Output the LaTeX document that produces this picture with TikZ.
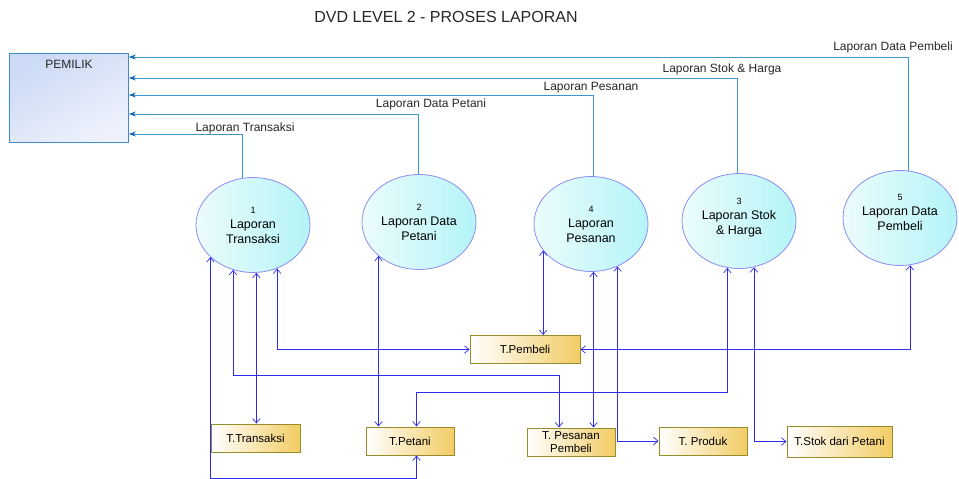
\documentclass[tikz,border=0pt]{standalone}
\usepackage{fontspec}
\setmainfont{Liberation Sans}
\usetikzlibrary{shapes.geometric,arrows.meta}

\definecolor{repline}{RGB}{60,150,210}
\definecolor{rephead}{RGB}{20,100,180}
\definecolor{flowline}{RGB}{45,45,240}
\definecolor{entborder}{RGB}{60,140,205}
\definecolor{entA}{RGB}{204,218,245}
\definecolor{entB}{RGB}{238,242,252}
\definecolor{procborder}{RGB}{140,140,240}
\definecolor{procA}{RGB}{236,252,252}
\definecolor{procB}{RGB}{180,244,248}
\definecolor{storeborder}{RGB}{150,140,40}
\definecolor{storeB}{RGB}{242,204,100}

\tikzset{
  entity/.style={rectangle, draw=entborder, line width=0.9pt,
    top color=entA, bottom color=entB, shading angle=30,
    minimum width=119pt, minimum height=89pt, inner sep=0pt},
  process/.style={ellipse, draw=procborder, line width=0.8pt,
    left color=procA, right color=procB,
    minimum width=114pt, minimum height=95pt, inner sep=0pt,
    align=center, font=\fontsize{12.5}{15}\selectfont},
  store/.style={rectangle, draw=storeborder, line width=1pt,
    left color=white, right color=storeB,
    minimum height=28pt, inner sep=1pt, align=center,
    font=\fontsize{11.5}{12.5}\selectfont},
  lbl/.style={font=\fontsize{12}{14}\selectfont, inner sep=0pt, text=black!85},
  flow/.style={draw=flowline, line width=0.7pt,
    {Straight Barb[length=4.5pt,width=7.5pt]}-{Straight Barb[length=4.5pt,width=7.5pt]}},
  rep/.style={draw=repline, line width=0.9pt,
    -{Stealth[length=7pt,width=5pt,color=rephead]}}
}

\begin{document}
\begin{tikzpicture}[x=1pt,y=-1pt]
\useasboundingbox (0,0) rectangle (959,479);

% title
\node[font=\fontsize{16}{18}\selectfont, text=black!85] (title) at (446,17) {DVD LEVEL 2 - PROSES LAPORAN};

% external entity
\node[entity, anchor=north west] (pem) at (9,53) {};
\node[font=\fontsize{12}{14}\selectfont, text=black!85] (pemtxt) at ([yshift=-11pt]pem.north) {PEMILIK};
\coordinate (p1) at ([yshift=-4pt]pem.north east);
\coordinate (p2) at ([yshift=-25pt]pem.north east);
\coordinate (p3) at ([yshift=-42pt]pem.north east);
\coordinate (p4) at ([yshift=-61pt]pem.north east);
\coordinate (p5) at ([yshift=-81pt]pem.north east);

% processes
\node[process] (c1) at (253,225) {{\fontsize{9}{10}\selectfont 1}\\Laporan\\Transaksi};
\node[process] (c2) at (419,222) {{\fontsize{9}{10}\selectfont 2}\\Laporan Data\\Petani};
\node[process] (c4) at (591,224) {{\fontsize{9}{10}\selectfont 4}\\Laporan\\Pesanan};
\node[process, text depth=9pt] (c3) at (739,221) {{\fontsize{9}{10}\selectfont 3}\\Laporan Stok\\\& Harga};
\node[process, text depth=12pt] (c5) at (900,218) {{\fontsize{9}{10}\selectfont 5}\\Laporan Data\\Pembeli};

% data stores
\node[store, minimum width=89pt]  (tt)  at (255.5,438) {T.Transaksi};
\node[store, minimum width=88pt]  (tpt) at (410,441)   {T.Petani};
\node[store, minimum width=110pt] (tpb) at (525,349.5) {T.Pembeli};
\node[store, minimum width=88pt]  (tps) at (571,442)   {T. Pesanan\\Pembeli};
\node[store, minimum width=88pt]  (tpr) at (703,441)   {T. Produk};
\node[store, minimum width=105pt, minimum height=31pt] (tsp) at (839.5,441.5) {T.Stok dari Petani};

% report flows to the owner
\draw[rep] (c5.80.4)  |- (p1);
\draw[rep] (c3.92.4)  |- (p2);
\draw[rep] (c4.87.6)  |- (p3);
\draw[rep] (c2.91)    |- (p4);
\draw[rep] (c1.103.1) |- (p5);

\node[lbl] (l1) at (245,128) {Laporan Transaksi};
\node[lbl] (l2) at (431,104) {Laporan Data Petani};
\node[lbl] (l3) at (591,88)  {Laporan Pesanan};
\node[lbl] (l4) at (722,69)  {Laporan Stok \& Harga};
\node[lbl] (l5) at (893,47)  {Laporan Data Pembeli};

% data store access
\draw[flow] (c1.-143.8) |- ([xshift=6.5pt,yshift=-23pt]tpt.south) -- ([xshift=6.5pt]tpt.south);
\draw[flow] (c1.-114) |- ([xshift=-12pt,yshift=52pt]tps.north) -- ([xshift=-12pt]tps.north);
\draw[flow] (c1.-86.4) -- (c1.-86.4 |- tt.north);
\draw[flow] (c1.-61.1) |- (tpb.west);
\draw[flow] (c2.-140.1) -- (c2.-140.1 |- tpt.north);
\draw[flow] (c4.-151.6) -- (c4.-151.6 |- tpb.north);
\draw[flow] (c4.-87.6) -- (c4.-87.6 |- tps.north);
\draw[flow] (c4.-58.7) |- (tpr.west);
\draw[flow] (c3.-104.4) |- ([xshift=6.5pt,yshift=34pt]tpt.north) -- ([xshift=6.5pt]tpt.north);
\draw[flow] (c3.-72.05) |- (tsp.west);
\draw[flow] (c5.-78.1) |- (tpb.east);

\end{tikzpicture}
\end{document}
